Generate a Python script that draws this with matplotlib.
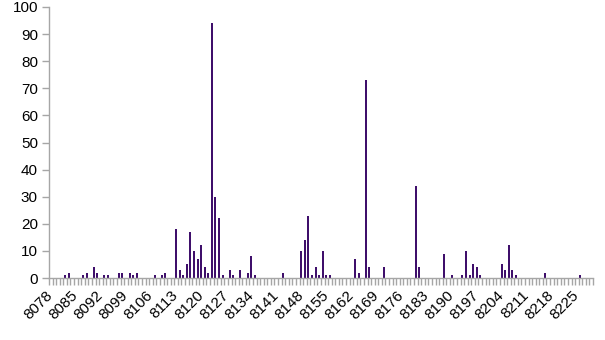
import matplotlib
matplotlib.use("Agg")
import matplotlib.pyplot as plt
import matplotlib.transforms as mtransforms
import numpy as np

plt.rcParams['font.family'] = ['Liberation Sans', 'DejaVu Sans']

# category range shown on the x axis (consecutive ids)
first_id = 8078
last_id = 8229

# ids with a non-zero count, and their counts (all other ids are 0)
bar_ids = [8082, 8083, 8087, 8088, 8090, 8091, 8093, 8094, 8097, 8098,
           8100, 8101, 8102, 8107, 8109, 8110, 8113, 8114, 8115, 8116,
           8117, 8118, 8119, 8120, 8121, 8122, 8123, 8124, 8125, 8126,
           8128, 8129, 8131, 8133, 8134, 8135, 8143, 8148, 8149, 8150,
           8151, 8152, 8153, 8154, 8155, 8156, 8163, 8164, 8166, 8167,
           8171, 8180, 8181, 8188, 8190, 8193, 8194, 8195, 8196, 8197,
           8198, 8204, 8205, 8206, 8207, 8208, 8216, 8226]
bar_counts = [1, 2, 1, 2, 4, 2, 1, 1, 2, 2,
              2, 1, 2, 1, 1, 2, 18, 3, 1, 5,
              17, 10, 7, 12, 4, 2, 94, 30, 22, 1,
              3, 1, 3, 2, 8, 1, 2, 10, 14, 23,
              1, 4, 1, 10, 1, 1, 7, 2, 73, 4,
              4, 34, 4, 9, 1, 1, 10, 1, 5, 4,
              1, 5, 3, 12, 3, 1, 2, 1]

label_step = 7

categories = list(range(first_id, last_id + 1))
counts = {c: 0 for c in categories}
for i, v in zip(bar_ids, bar_counts):
    counts[i] = v
values = [counts[c] for c in categories]
n = len(categories)
pos = np.arange(n)

fig = plt.figure(figsize=(6.05, 3.4), dpi=100)
ax = fig.add_axes([49 / 605, 1 - 278 / 340, 544 / 605, 271 / 340])

ax.bar(pos, values, width=0.55, color='#3f0f6b', linewidth=0)

ax.set_xlim(-0.5, n - 0.5)
ax.set_ylim(0, 100)
ax.set_yticks(range(0, 101, 10))

lab_pos = pos[::label_step]
ax.set_xticks(lab_pos)
ax.set_xticklabels([str(categories[i]) for i in lab_pos], rotation=45,
                   ha='right', va='center', rotation_mode='anchor')
ax.set_xticks(np.arange(n + 1) - 0.5, minor=True)

# nudge rotated labels a little right and down
shift = mtransforms.ScaledTranslation(2 / 100, -4 / 100, fig.dpi_scale_trans)
for lab in ax.get_xticklabels():
    lab.set_transform(lab.get_transform() + shift)

axis_col = '#a6a6a6'
for s in ['top', 'right']:
    ax.spines[s].set_visible(False)
for s in ['left', 'bottom']:
    ax.spines[s].set_color(axis_col)
    ax.spines[s].set_linewidth(1.0)

ax.tick_params(axis='x', which='major', length=0, pad=11, labelsize=11)
ax.tick_params(axis='x', which='minor', length=5, color=axis_col, width=1)
ax.tick_params(axis='y', which='major', length=5, color=axis_col, width=1,
               labelsize=11, pad=3)

fig.savefig('out.png', dpi=100)
